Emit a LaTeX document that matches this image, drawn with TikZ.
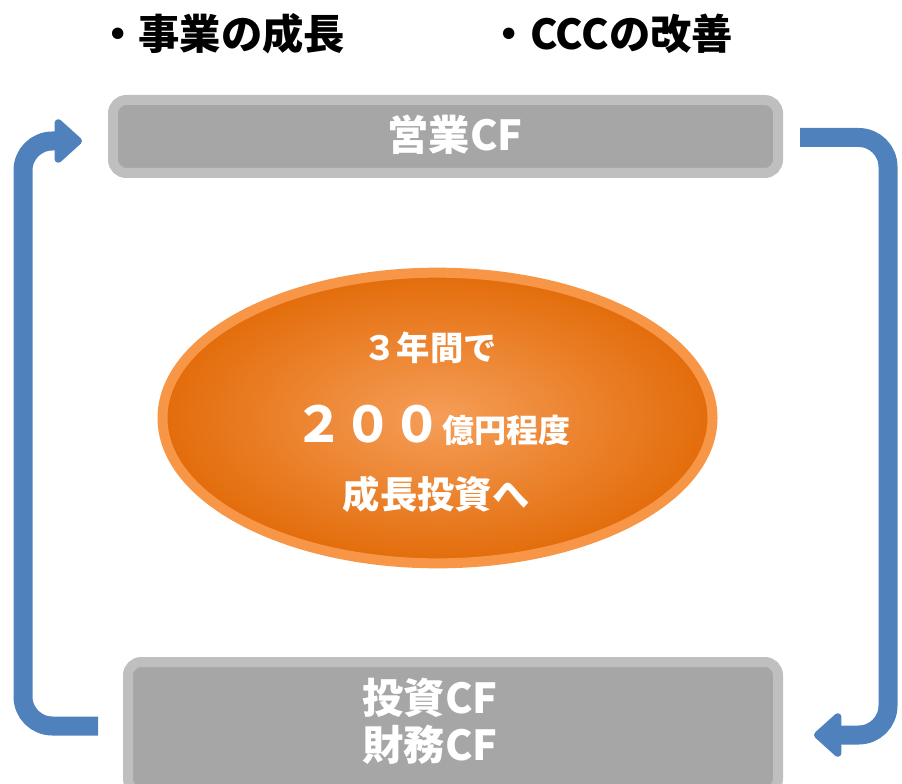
\documentclass[tikz,border=0pt]{standalone}
\usepackage{fontspec}
\newfontfamily\jp{Noto Sans CJK JP}
\usetikzlibrary{shapes.geometric,arrows.meta}
\definecolor{flowblue}{HTML}{4F81BD}
\definecolor{boxedge}{HTML}{BFBFBF}
\definecolor{boxfill}{HTML}{A6A6A6}
\definecolor{ovedge}{HTML}{F79646}
\definecolor{ovin}{HTML}{F59E58}
\definecolor{ovout}{HTML}{E36C0A}
\tikzset{
  cfbox/.style={draw=boxedge, line width=7.5pt, fill=boxfill, rounded corners=10pt, inner sep=0pt},
  cflabel/.style={text=white, font=\jp\bfseries\fontsize{31pt}{36pt}\selectfont, align=center, inner sep=0pt},
  toplabel/.style={text=black, font=\jp\bfseries\fontsize{31pt}{34pt}\selectfont, inner sep=0pt},
  ovlabel/.style={text=white, font=\jp\bfseries\fontsize{25pt}{30pt}\selectfont, inner sep=0pt},
  flow/.style={draw=flowblue, line width=14.25pt, rounded corners=22pt,
    -{Triangle[length=22pt, width=38pt, round]}}
}
\begin{document}
\begin{tikzpicture}[x=0.75pt, y=-0.75pt]
\useasboundingbox (0,0) rectangle (902,784);
% headings
\node[toplabel] (h1) at (221,34) {・事業の成長};
\node[toplabel] (h2) at (611,34) {・CCCの改善};
% boxes
\node[cfbox, minimum width=498.75pt, minimum height=54.75pt] (ocf) at (445.5,136.5) {};
\node[cflabel] (ocft) at (455,135) {営業CF};
\node[cfbox, minimum width=487.5pt, minimum height=97.5pt] (icf) at (453,727) {};
\node[cflabel] (icft) at (430,721) {投資CF\\[-1pt]財務CF};
% ellipse
\node[ellipse, draw=ovedge, line width=7.5pt, inner color=ovin, outer color=ovout,
      minimum width=412.5pt, minimum height=218pt, inner sep=0pt] (ov) at (437.5,418) {};
\node[ovlabel] (t1) at (430,348) {３年間で};
\node[ovlabel, anchor=base] (t2) at (432,442) {{\fontsize{37pt}{40pt}\selectfont ２００}{\fontsize{24pt}{30pt}\selectfont 億円程度}};
\node[ovlabel, font=\jp\bfseries\fontsize{28pt}{32pt}\selectfont] (t3) at (436,494) {成長投資へ};
% connectors
\coordinate (ls) at (98,726);
\coordinate (lc1) at (23,726);
\coordinate (lc2) at (23,141);
\coordinate (lt) at (82,141);
\draw[flow] (ls) -- (lc1) -- (lc2) -- (lt);
\coordinate (rs) at (800,137.5);
\coordinate (rc1) at (888,137.5);
\coordinate (rc2) at (888,735);
\coordinate (rt) at (814,735);
\draw[flow] (rs) -- (rc1) -- (rc2) -- (rt);
\end{tikzpicture}
\end{document}
